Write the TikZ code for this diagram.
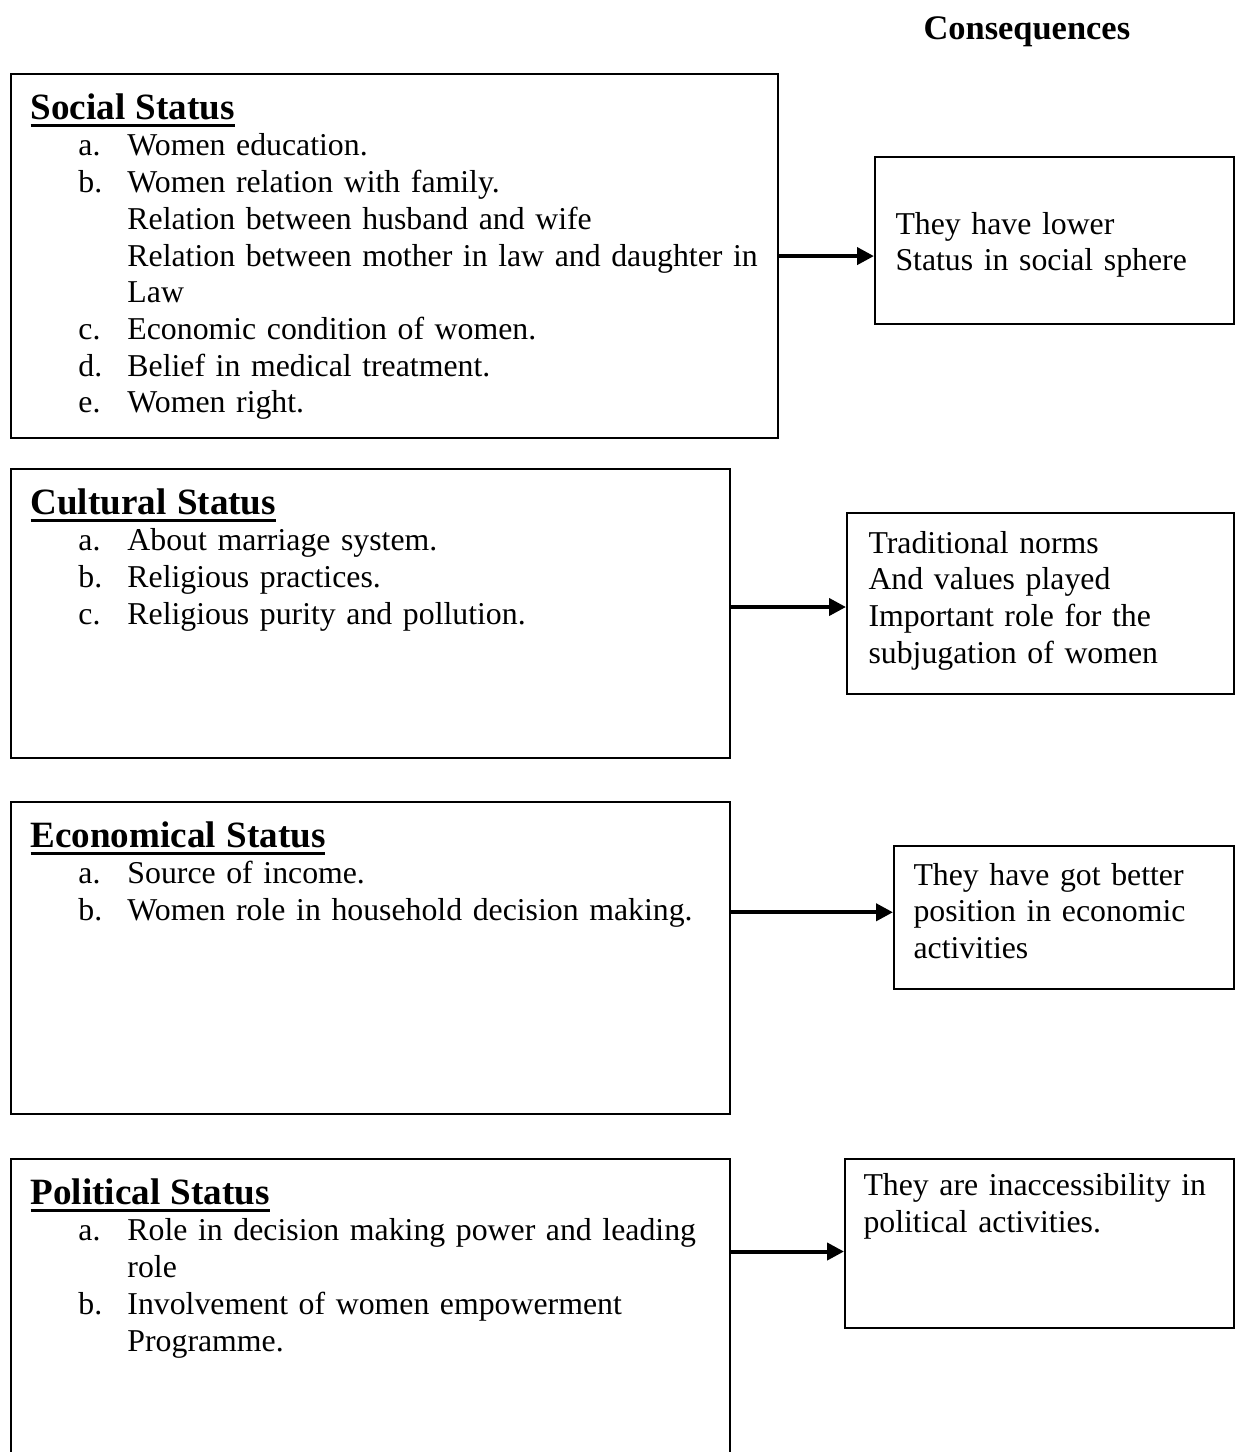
\documentclass[tikz,border=0pt]{standalone}
\usepackage{fontspec}
\setmainfont{Liberation Serif}
\usetikzlibrary{arrows.meta,positioning,calc}
\newcommand{\px}{0.3775pt}
\tikzstyle{statusbox}=[draw,line width=0.8pt,anchor=north west,inner sep=0pt]
\tikzstyle{listtext}=[anchor=north west,inner sep=0pt,align=left,text width=285pt]
\tikzstyle{link}=[line width=1.5pt,-{Triangle[length=6.4pt,width=6.4pt]}]
\newcommand{\heading}[1]{{\fontsize{14}{16}\selectfont\bfseries
  \setbox0\hbox{#1}\rlap{\rule[-2.9pt]{\wd0}{1.3pt}}\box0}}
\newcommand{\lab}[1]{\hspace*{18.1pt}\makebox[18.5pt][l]{#1}}
\newcommand{\cont}{\hspace*{36.6pt}}

\begin{document}
\begin{tikzpicture}[x=0.3775pt,y=-0.3775pt,font=\fontsize{12}{13.85}\selectfont]
\useasboundingbox (0,0) rectangle (1235,1452);
\clip (0,0) rectangle (1235,1452);

\node[anchor=base west,inner sep=0pt,font=\fontsize{13}{15}\selectfont\bfseries] (conshead) at (923,39) {Consequences};

% status boxes on the left
\node[statusbox,minimum width=767*\px,minimum height=364*\px] (social) at (10,73) {};
\node[listtext] (socialtext) at ([shift={(20,20)}]social.north west) {\heading{Social Status}\\
  \lab{a.}Women education.\\
  \lab{b.}Women relation with family.\\
  \cont Relation between husband and wife\\
  \cont Relation between mother in law and daughter in\\
  \cont Law\\
  \lab{c.}Economic condition of women.\\
  \lab{d.}Belief in medical treatment.\\
  \lab{e.}Women right.};

\node[statusbox,minimum width=719*\px,minimum height=289*\px] (cultural) at (10,468) {};
\node[listtext] (culturaltext) at ([shift={(20,20)}]cultural.north west) {\heading{Cultural Status}\\
  \lab{a.}About marriage system.\\
  \lab{b.}Religious practices.\\
  \lab{c.}Religious purity and pollution.};

\node[statusbox,minimum width=719*\px,minimum height=312*\px] (economical) at (10,801) {};
\node[listtext] (economicaltext) at ([shift={(20,20)}]economical.north west) {\heading{Economical Status}\\
  \lab{a.}Source of income.\\
  \lab{b.}Women role in household decision making.};

\node[statusbox,minimum width=719*\px,minimum height=330*\px] (political) at (10,1158) {};
\node[listtext] (politicaltext) at ([shift={(20,20)}]political.north west) {\heading{Political Status}\\
  \lab{a.}Role in decision making power and leading\\
  \cont role\\
  \lab{b.}Involvement of women empowerment\\
  \cont Programme.};

% consequences on the right
\node[statusbox,minimum width=359*\px,minimum height=167*\px] (socialcons) at (874,156) {};
\node[listtext,text width=125pt] (socialconstext) at ([shift={(21,55.5)}]socialcons.north west)
  {They have lower\\Status in social sphere};
\node[statusbox,minimum width=387*\px,minimum height=181*\px] (culturalcons) at (846,512) {};
\node[listtext,text width=135pt] (culturalconstext) at ([shift={(22,18.5)}]culturalcons.north west)
  {Traditional norms\\And values played\\Important role for the\\subjugation of women};
\node[statusbox,minimum width=340*\px,minimum height=143*\px] (economicalcons) at (893,845) {};
\node[listtext,text width=118pt] (economicalconstext) at ([shift={(20,17.5)}]economicalcons.north west)
  {They have got better\\position in economic\\activities};
\node[statusbox,minimum width=389*\px,minimum height=169*\px] (politicalcons) at (844,1158) {};
\node[listtext,text width=135pt] (politicalconstext) at ([shift={(19,15)}]politicalcons.north west)
  {They are inaccessibility in\\political activities.};

% arrows
\draw[link] (social.east) -- (social.east -| socialcons.west);
\draw[link] ([yshift=-1.3pt]culturalcons.west -| cultural.east) -- ([yshift=-1.3pt]culturalcons.west);
\draw[link] ([yshift=2pt]economicalcons.west -| economical.east) -- ([yshift=2pt]economicalcons.west);
\draw[link] ([yshift=-3pt]politicalcons.west -| political.east) -- ([yshift=-3pt]politicalcons.west);
\end{tikzpicture}
\end{document}
